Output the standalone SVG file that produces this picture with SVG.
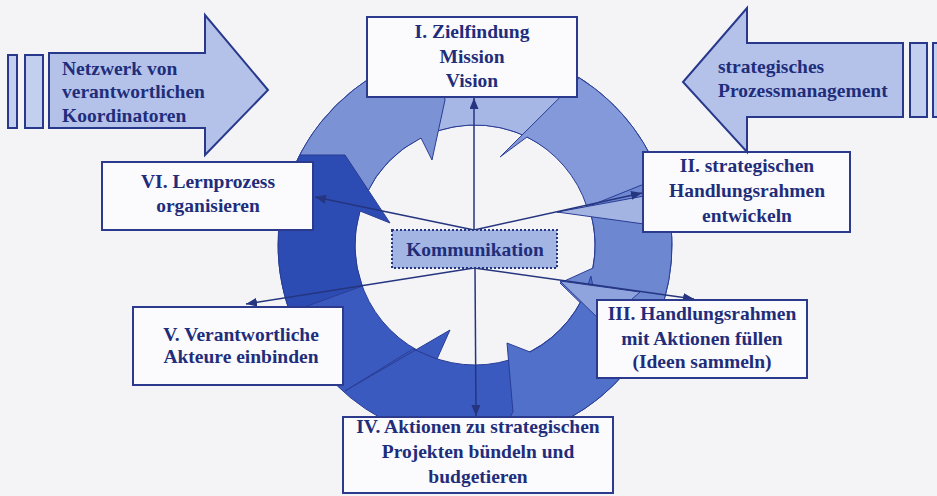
<svg xmlns="http://www.w3.org/2000/svg" width="937" height="496" viewBox="0 0 937 496">
<style>
.box{fill:#fbfbfd;stroke:#2b3a8c;stroke-width:2}
.t{font-family:"Liberation Serif","Times New Roman",serif;font-weight:bold;font-size:19.5px;fill:#1f2d7a}
.c{text-anchor:middle}
.seg{stroke:#2a3d95;stroke-width:1;stroke-linejoin:miter}
.con{stroke:#25357f;stroke-width:1.5;fill:none;marker-end:url(#ah)}
.big{fill:#b4c2ea;stroke:#28398c;stroke-width:2}
.bar{fill:#c3cfef;stroke:#28398c;stroke-width:2}
</style>
<defs>
<marker id="ah" markerUnits="userSpaceOnUse" markerWidth="11" markerHeight="9" refX="11" refY="4.5" orient="auto">
<path d="M0,0 L11,4.5 L0,9 z" fill="#25357f"/>
</marker>
</defs>
<rect width="937" height="496" fill="#f4f4f7"/>

<g id="ring">
<path class="seg" fill="#3a5ac0" fill-rule="evenodd" d="M278,245 A197,197 0 1,0 672,245 A197,197 0 1,0 278,245 Z M355,245 A120,120 0 1,1 595,245 A120,120 0 1,1 355,245 Z"/>
<path class="seg" fill="#a6b6e5" d="M391.7,66.5 A197,197 0 0,1 588,83.6 L543.8,146.7 A120,120 0 0,0 424.3,136.2 Z"/>
<path class="seg" fill="#7b92d4" d="M296.5,161.7 A197,197 0 0,1 437.4,51.6 L445,100 L432,160 L421,138 A120,120 0 0,0 366.2,194.3 Z"/>
<path class="seg" fill="#8399d9" d="M579.4,77.9 A197,197 0 0,1 665.3,194 L557,212 L587,207 A120,120 0 0,0 527,137 L500,157 Z"/>
<path class="seg" fill="#6d87d1" d="M660.1,177.6 A197,197 0 0,1 648.9,337.5 L600,322 L560,283 L593,268 A120,120 0 0,0 591,214 L587,207 Z"/>
<path class="seg" fill="#a3b4e3" d="M557,212 L666,192 L673,228 Z"/>
<path class="seg" fill="#5070c9" d="M648.9,337.5 A197,197 0 0,1 495.6,440.9 L513,412 L507,343 L530,352 A120,120 0 0,0 590.9,276.1 L600,322 Z"/>
<path class="seg" fill="#8fa3dd" d="M560,281 L640,292 L604,324 Z"/>
<path class="seg" fill="#3a5ac0" d="M345,391 L450,330 L437,359 L413,349 Z"/>
<path class="seg" fill="#2c4cb3" d="M299.8,155 L345,155 L390,223 L360,211 A120,120 0 0,0 362.2,286 L289.9,312.4 A197,197 0 0,1 299.8,155 Z"/>
</g>

<g id="connectors">
<line class="con" x1="474" y1="230" x2="474" y2="98"/>
<line class="con" x1="474" y1="230" x2="642" y2="193"/>
<line class="con" x1="474" y1="230" x2="315" y2="197"/>
<line class="con" x1="474" y1="268" x2="694" y2="299"/>
<line class="con" x1="475" y1="268" x2="476" y2="416"/>
<line class="con" x1="474" y1="268" x2="246" y2="304"/>
</g>

<g id="kommunikation">
<rect x="392" y="230" width="165" height="38" fill="#a3b5e3" stroke="#25357f" stroke-width="2" stroke-dasharray="2 2"/>
<text class="t c" x="475" y="256">Kommunikation</text>
</g>

<g id="box1">
<rect class="box" x="367" y="17" width="210" height="80"/>
<text class="t c" x="472" y="38">I. Zielfindung</text>
<text class="t c" x="472" y="63">Mission</text>
<text class="t c" x="472" y="87">Vision</text>
</g>
<g id="box2">
<rect class="box" x="643" y="152" width="207" height="80"/>
<text class="t c" x="747" y="172">II. strategischen</text>
<text class="t c" x="747" y="197">Handlungsrahmen</text>
<text class="t c" x="747" y="222">entwickeln</text>
</g>
<g id="box3">
<rect class="box" x="597" y="300" width="210" height="78"/>
<text class="t c" x="702" y="320">III. Handlungsrahmen</text>
<text class="t c" x="702" y="345">mit Aktionen füllen</text>
<text class="t c" x="702" y="368">(Ideen sammeln)</text>
</g>
<g id="box4">
<rect class="box" x="343" y="417" width="270" height="76"/>
<text class="t c" x="478" y="433">IV. Aktionen zu strategischen</text>
<text class="t c" x="478" y="458">Projekten bündeln und</text>
<text class="t c" x="478" y="483">budgetieren</text>
</g>
<g id="box5">
<rect class="box" x="133" y="307" width="210" height="78"/>
<text class="t c" x="241" y="341">V. Verantwortliche</text>
<text class="t c" x="241" y="363">Akteure einbinden</text>
</g>
<g id="box6">
<rect class="box" x="102" y="162" width="211" height="68"/>
<text class="t c" x="208" y="188">VI. Lernprozess</text>
<text class="t c" x="208" y="212">organisieren</text>
</g>

<g id="arrowLeft">
<rect class="bar" x="8" y="55" width="9" height="73"/>
<rect class="bar" x="25" y="55" width="18" height="73"/>
<path class="big" d="M49,53 L205,53 L205,15 L268,90 L205,155 L205,128 L49,128 Z"/>
<text class="t" x="62" y="75">Netzwerk von</text>
<text class="t" x="62" y="98">verantwortlichen</text>
<text class="t" x="62" y="122">Koordinatoren</text>
</g>
<g id="arrowRight">
<rect class="bar" x="910" y="43" width="17" height="74"/>
<rect class="bar" x="933" y="43" width="10" height="74"/>
<path class="big" d="M903,43 L747,43 L747,8 L683,82 L747,152 L747,117 L903,117 Z"/>
<text class="t" x="718" y="73">strategisches</text>
<text class="t" x="718" y="97">Prozessmanagement</text>
</g>
</svg>
